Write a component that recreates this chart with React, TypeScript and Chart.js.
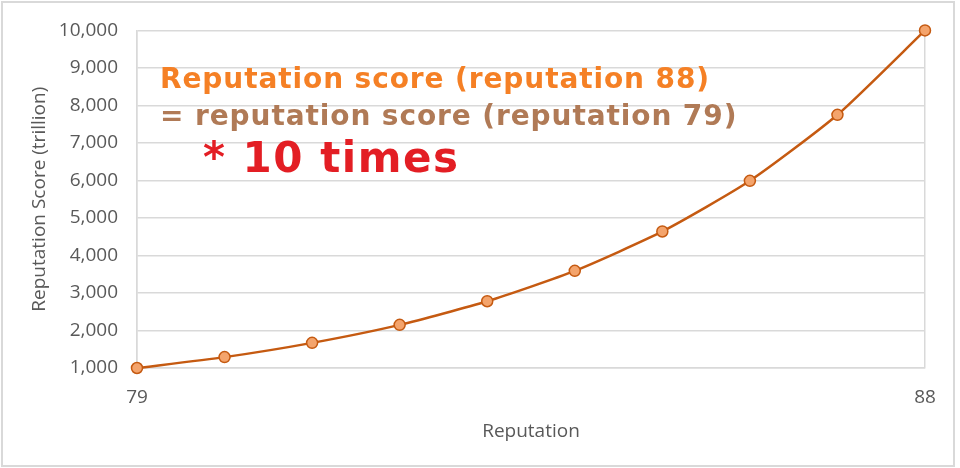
import React, { useEffect, useRef } from "react";
import Chart from "chart.js/auto";

// reputation levels on the x axis
const reputation = [79, 80, 81, 82, 83, 84, 85, 86, 87, 88];
// score in trillion
const scores = [1000, 1290, 1670, 2150, 2780, 3590, 4640, 5990, 7750, 10000];
const xTickValues = [79, 88];

const lineColor = "#C55A11";
const pointFill = "#F4A46C";
const gridColor = "#d9d9d9";
const tickColor = "#595959";
const font = "'Open Sans', 'Noto Sans', sans-serif";
const noteFont = "'DejaVu Sans', Verdana, sans-serif";

export const ReputationChart: React.FC = () => {
  const chartRef = useRef<HTMLCanvasElement>(null);

  useEffect(() => {
    let chart: Chart | null = null;
    let cancelled = false;

    const build = () => {
      if (cancelled || !chartRef.current) return;
      chart = new Chart(chartRef.current, {
        type: "line",
        data: {
          datasets: [
            {
              data: reputation.map((r, i) => ({ x: r, y: scores[i] })),
              borderColor: lineColor,
              borderWidth: 2.5,
              backgroundColor: pointFill,
              pointBackgroundColor: pointFill,
              pointBorderColor: lineColor,
              pointBorderWidth: 1.5,
              pointRadius: 5.5,
              tension: 0.2,
              clip: false,
            },
          ],
        },
        options: {
          animation: false,
          responsive: false,
          maintainAspectRatio: false,
          layout: { padding: { left: 24, top: 23, right: 35, bottom: 21 } },
          plugins: { legend: { display: false }, tooltip: { enabled: false } },
          scales: {
            x: {
              type: "linear",
              min: 79,
              max: 88,
              afterBuildTicks: (scale) => {
                scale.ticks = xTickValues.map((v) => ({ value: v }));
              },
              afterFit: (scale) => {
                scale.height = 79;
              },
              grid: { color: gridColor, lineWidth: 1.5, drawTicks: false },
              border: { color: gridColor, width: 1.5 },
              ticks: {
                color: tickColor,
                padding: 18,
                font: { family: font, size: 19 },
              },
              title: {
                display: true,
                text: "Reputation",
                color: tickColor,
                padding: { top: 8 },
                font: { family: font, size: 19 },
              },
            },
            y: {
              min: 1000,
              max: 10000,
              afterFit: (scale) => {
                scale.width = 113;
              },
              grid: { color: gridColor, lineWidth: 1.5, drawTicks: false },
              border: { color: gridColor, width: 1.5 },
              ticks: {
                stepSize: 1000,
                color: tickColor,
                padding: 19,
                font: { family: font, size: 19 },
                callback: (v) => Number(v).toLocaleString("en-US"),
              },
              title: {
                display: true,
                text: "Reputation Score (trillion)",
                color: tickColor,
                padding: { bottom: 2 },
                font: { family: font, size: 19 },
              },
            },
          },
        },
      });
    };

    // make sure the tick font is ready before the canvas draws text
    const fonts = (document as any).fonts;
    if (fonts && fonts.load) {
      fonts.load("19px 'Open Sans'").then(build, build);
    } else {
      build();
    }

    return () => {
      cancelled = true;
      if (chart) chart.destroy();
    };
  }, []);

  return (
    <div
      style={{
        position: "absolute",
        left: 0,
        top: 0,
        width: 960,
        height: 468,
        background: "#fff",
      }}
    >
      <canvas ref={chartRef} width={960} height={468} />
      <div
        style={{
          position: "absolute",
          left: 1,
          top: 1,
          width: 950,
          height: 462,
          border: "2px solid #d9d9d9",
          pointerEvents: "none",
        }}
      />
      <div
        style={{
          position: "absolute",
          left: 160,
          top: 60,
          fontFamily: noteFont,
          fontWeight: "bold",
          fontSize: 28,
          letterSpacing: "0.9px",
          lineHeight: "37px",
          whiteSpace: "nowrap",
        }}
      >
        <div style={{ color: "#F58025" }}>Reputation score (reputation 88)</div>
        <div style={{ color: "#B07A56" }}>= reputation score (reputation 79)</div>
        <div
          style={{
            color: "#E31E24",
            fontSize: 42,
            letterSpacing: "1.5px",
            lineHeight: "48px",
            marginLeft: 43,
          }}
        >
          * 10 times
        </div>
      </div>
    </div>
  );
};

export default function App() {
  return <ReputationChart />;
}
